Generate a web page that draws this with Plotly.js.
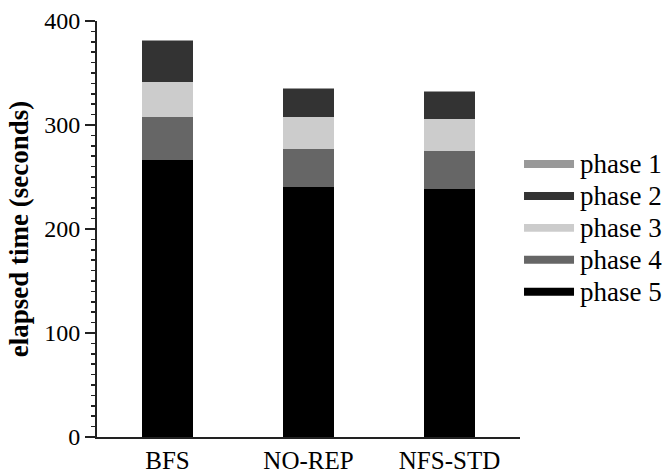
<!DOCTYPE html>
<html>
<head>
<meta charset="utf-8">
<script src="https://cdn.plot.ly/plotly-3.0.1.min.js"></script>
<style>html,body{margin:0;padding:0;background:#fff;}#chart{width:667px;height:474px;}</style>
</head>
<body>
<div id="chart"></div>
<script>
const categories = ['BFS', 'NO-REP', 'NFS-STD'];
const phaseNames = ['phase 1', 'phase 2', 'phase 3', 'phase 4', 'phase 5'];
const phase1 = [1, 1, 1];
const phase2 = [39, 26.5, 25.8];
const phase3 = [34, 31, 30.5];
const phase4 = [41, 37, 37];
const phase5 = [266.5, 240, 238];
const yTickVals = [0, 100, 200, 300, 400];

const colors = ['#999999', '#333333', '#cccccc', '#666666', '#000000'];
const series = [phase1, phase2, phase3, phase4, phase5];
const FONT = 'Liberation Serif';

// bottom of stack first (phase 5) up to phase 1
const traces = [];
for (let i = series.length - 1; i >= 0; i--) {
  traces.push({
    type: 'bar',
    name: phaseNames[i],
    x: categories,
    y: series[i],
    width: 0.36,
    marker: {color: colors[i], line: {width: 0}},
    showlegend: false,
    hoverinfo: 'skip'
  });
}

// custom legend (wide flat swatches like the reference)
const shapes = [];
const annotations = [];
const legTop = 0.6565, legStep = 0.0769, halfH = 0.0096;
phaseNames.forEach((nm, i) => {
  const yc = legTop - i * legStep;
  shapes.push({type: 'rect', xref: 'paper', yref: 'paper',
    x0: 1.0095, x1: 1.1277, y0: yc - halfH, y1: yc + halfH,
    fillcolor: colors[i], line: {width: 0}});
  annotations.push({xref: 'paper', yref: 'paper', x: 1.138, y: yc,
    xanchor: 'left', yanchor: 'middle', showarrow: false, text: nm,
    font: {family: FONT, size: 27, color: '#000'}});
});

const layout = {
  width: 667, height: 474, autosize: false,
  margin: {l: 97, r: 147, t: 21, b: 37, pad: 0},
  paper_bgcolor: '#fff', plot_bgcolor: '#fff',
  barmode: 'stack',
  showlegend: false,
  font: {family: FONT, color: '#000'},
  xaxis: {
    type: 'category', range: [-0.5, 2.5],
    showgrid: false, zeroline: false,
    showline: true, linecolor: '#222', linewidth: 2,
    ticks: '', tickfont: {family: FONT, size: 25, color: '#000'}
  },
  yaxis: {
    range: [0, 400], tickvals: yTickVals, ticktext: yTickVals.map(String),
    showgrid: false, zeroline: false,
    showline: true, linecolor: '#222', linewidth: 2,
    ticks: 'outside', ticklen: 10, tickwidth: 1.5, tickcolor: '#222',
    minor: {dtick: 10, ticks: 'outside', ticklen: 4, tickwidth: 1.5, tickcolor: '#222'},
    tickfont: {family: FONT, size: 24, color: '#000'},
    title: {text: '<b>elapsed time (seconds)</b>', font: {family: FONT, size: 27, color: '#000'}, standoff: 8}
  },
  shapes: shapes,
  annotations: annotations
};

Plotly.newPlot('chart', traces, layout, {displayModeBar: false, staticPlot: true});
</script>
</body>
</html>
